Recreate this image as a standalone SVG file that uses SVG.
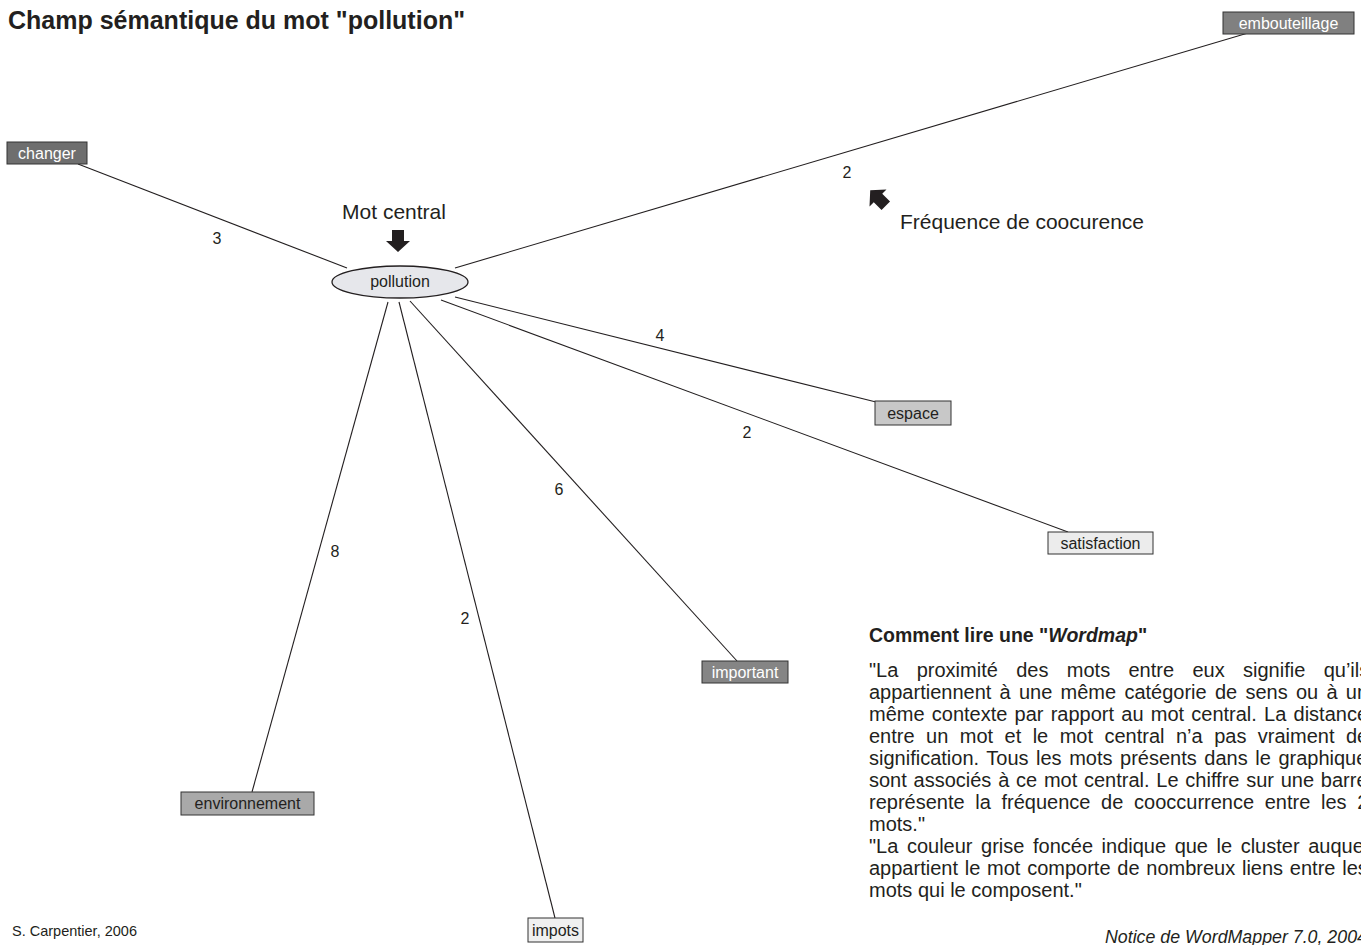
<svg xmlns="http://www.w3.org/2000/svg" width="1361" height="945" viewBox="0 0 1361 945">
<style>
text{font-family:"Liberation Sans",Arial,sans-serif;fill:#231f20}
.lbl{font-size:16px;text-anchor:middle}
.num{font-size:16px;text-anchor:middle}
.box{stroke:#333;stroke-width:1}
.dark{fill:#fff}
.body{font-size:20px}
line{stroke:#231f20;stroke-width:1.1}
</style>
<rect width="1361" height="945" fill="#fff"/>
<text x="8" y="29" style="font-size:25px;font-weight:bold">Champ sémantique du mot "pollution"</text>

<g id="connectors">
<line x1="78" y1="164" x2="347" y2="268"/>
<line x1="1248" y1="33" x2="455" y2="268"/>
<line x1="876" y1="402" x2="455" y2="297"/>
<line x1="1068" y1="532" x2="441" y2="300"/>
<line x1="737" y1="661" x2="410" y2="301"/>
<line x1="555" y1="918" x2="399" y2="302"/>
<line x1="252" y1="792" x2="388" y2="302"/>
<text class="num" x="217" y="244">3</text>
<text class="num" x="847" y="178">2</text>
<text class="num" x="660" y="341">4</text>
<text class="num" x="747" y="438">2</text>
<text class="num" x="559" y="495">6</text>
<text class="num" x="335" y="557">8</text>
<text class="num" x="465" y="624">2</text>
</g>

<g id="pollution">
<ellipse cx="400" cy="282" rx="68" ry="16" fill="#e6e7eb" stroke="#231f20" stroke-width="1.3"/>
<text class="lbl" x="400" y="287">pollution</text>
</g>
<g id="embouteillage">
<rect class="box" x="1223" y="12" width="131" height="22" fill="#808080"/>
<text class="lbl dark" x="1288.5" y="28.5">embouteillage</text>
</g>
<g id="changer">
<rect class="box" x="7" y="142" width="80" height="22" fill="#6e6e6e"/>
<text class="lbl dark" x="47" y="158.5">changer</text>
</g>
<g id="espace">
<rect class="box" x="875" y="401" width="76" height="24" fill="#c8c8c8"/>
<text class="lbl" x="913" y="418.5">espace</text>
</g>
<g id="satisfaction">
<rect class="box" x="1048" y="532" width="105" height="22" fill="#ececec"/>
<text class="lbl" x="1100.5" y="548.5">satisfaction</text>
</g>
<g id="important">
<rect class="box" x="702" y="661" width="86" height="22" fill="#858585"/>
<text class="lbl dark" x="745" y="677.5">important</text>
</g>
<g id="impots">
<rect class="box" x="528" y="918" width="55" height="24" fill="#f0f0f0"/>
<text class="lbl" x="555.5" y="935.5">impots</text>
</g>
<g id="environnement">
<rect class="box" x="181" y="792" width="133" height="23" fill="#a9a9a9"/>
<text class="lbl" x="247.5" y="809">environnement</text>
</g>

<g id="annotation-central">
<text x="394" y="219" style="font-size:21px;text-anchor:middle">Mot central</text>
<polygon points="392,230 404,230 404,241 410,241 398,252 386,241 392,241" fill="#231f20"/>
</g>
<g id="annotation-frequence">
<polygon points="-6,-11 6,-11 6,0 12,0 0,11 -12,0 -6,0" fill="#231f20" transform="translate(878,198) rotate(135)"/>
<text x="900" y="229" style="font-size:21px">Fréquence de coocurence</text>
</g>

<g id="legend">
<text x="869" y="642" style="font-size:19.5px;font-weight:bold">Comment lire une "<tspan font-style="italic">Wordmap</tspan>"</text>
<text class="body" x="869" y="677" word-spacing="12.8">"La proximité des mots entre eux signifie qu’ils</text>
<text class="body" x="869" y="699" word-spacing="2.7">appartiennent à une même catégorie de sens ou à un</text>
<text class="body" x="869" y="721" word-spacing="1.65">même contexte par rapport au mot central. La distance</text>
<text class="body" x="869" y="743" word-spacing="5.9">entre un mot et le mot central n’a pas vraiment de</text>
<text class="body" x="869" y="765" word-spacing="2">signification. Tous les mots présents dans le graphique</text>
<text class="body" x="869" y="787" word-spacing="1.2">sont associés à ce mot central. Le chiffre sur une barre</text>
<text class="body" x="869" y="809" word-spacing="5.1">représente la fréquence de cooccurrence entre les 2</text>
<text class="body" x="869" y="831">mots."</text>
<text class="body" x="869" y="853" word-spacing="3">"La couleur grise foncée indique que le cluster auquel</text>
<text class="body" x="869" y="875" word-spacing="1.2">appartient le mot comporte de nombreux liens entre les</text>
<text class="body" x="869" y="897">mots qui le composent."</text>
<text x="1105" y="943" style="font-size:17.8px;font-style:italic">Notice de WordMapper 7.0, 2004</text>
</g>
<text x="12" y="936" style="font-size:14.5px">S. Carpentier, 2006</text>
</svg>
